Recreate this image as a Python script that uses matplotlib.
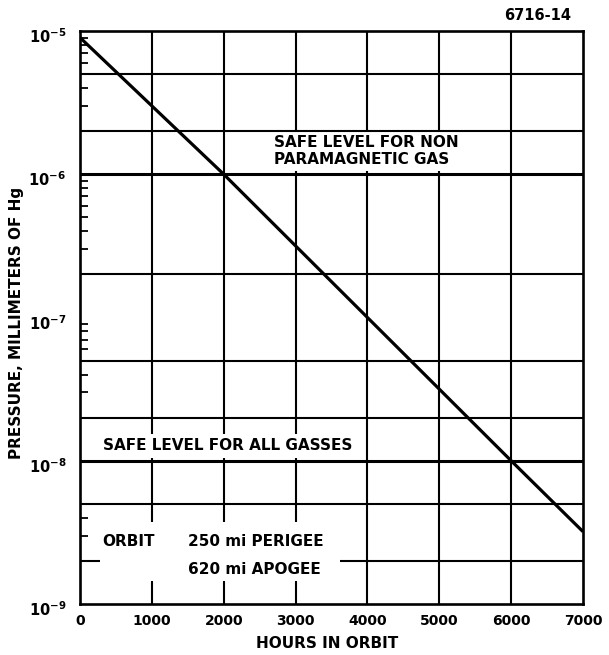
import matplotlib
matplotlib.use("Agg")
import matplotlib.pyplot as plt
import matplotlib.patches as mpatches
import matplotlib.transforms as mtransforms

# data
hours = [0, 2000, 4000, 6000, 7000]
pressure = [9.0e-6, 1.0e-6, 1.0e-7, 1.0e-8, 3.2e-9]

x_ticks = [0, 1000, 2000, 3000, 4000, 5000, 6000, 7000]
x_grid = [1000, 2000, 3000, 4000, 5000, 6000]
y_major = [1e-9, 1e-8, 1e-7, 1e-6, 1e-5]
y_major_labels = ["$10^{-9}$", "$10^{-8}$", "$10^{-7}$", "$10^{-6}$", "$10^{-5}$"]
y_grid = [5e-6, 2e-6, 2e-7, 5e-8, 2e-8, 5e-9, 2e-9]
safe_levels = [1e-6, 1e-8]
y_minor = [9e-6, 8e-6, 7e-6, 6e-6, 4e-6, 3e-6,
           9e-7, 8e-7, 7e-7, 6e-7, 5e-7, 4e-7, 3e-7,
           9e-8, 8e-8, 7e-8, 6e-8, 4e-8, 3e-8,
           4e-9, 3e-9]

FONT = "DejaVu Sans"
plt.rcParams["font.family"] = FONT
plt.rcParams["font.weight"] = "bold"
plt.rcParams["mathtext.default"] = "bf"

fig = plt.figure(figsize=(6.09, 6.55), dpi=100)
ax = fig.add_axes([80 / 609, 51 / 655, 503 / 609, 573 / 655])

ax.set_yscale("log")
ax.set_xlim(0, 7000)
ax.set_ylim(1e-9, 1e-5)

# grid
for x in x_grid:
    ax.axvline(x, color="black", lw=1.5, zorder=1)
for y in y_grid:
    ax.axhline(y, color="black", lw=1.5, zorder=3)
for y in safe_levels:
    ax.axhline(y, color="black", lw=2.2, zorder=3)

# decay curve
ax.plot(hours, pressure, color="black", lw=2.3, zorder=4, solid_capstyle="butt")

# ticks
ax.set_xticks(x_ticks)
ax.set_xticklabels([str(v) for v in x_ticks], fontsize=10, fontweight="bold")
ax.tick_params(axis="x", length=0, pad=7)
ax.set_yticks(y_major)
ax.set_yticklabels(y_major_labels, fontsize=10.5)
ax.set_yticks(y_minor, minor=True)
ax.yaxis.set_minor_formatter(plt.NullFormatter())
ax.tick_params(axis="y", which="major", length=0, pad=10)
ax.tick_params(axis="y", which="minor", direction="in", length=6, width=1.3)
shift = mtransforms.ScaledTranslation(0, -3 / 72, fig.dpi_scale_trans)
for lab in ax.get_yticklabels():
    lab.set_transform(lab.get_transform() + shift)

for sp in ax.spines.values():
    sp.set_linewidth(1.9)
    sp.set_zorder(5)

ax.set_xlabel("HOURS IN ORBIT", fontsize=11, fontweight="bold")
ax.xaxis.set_label_coords(0.492, -0.055)
ax.set_ylabel("PRESSURE, MILLIMETERS OF Hg", fontsize=11, fontweight="bold")
ax.yaxis.set_label_coords(-0.112, 0.49)

# annotations
box = dict(facecolor="white", edgecolor="none", pad=3)
ax.text(2700, 1.45e-6, "SAFE LEVEL FOR NON\nPARAMAGNETIC GAS", fontsize=11,
        ha="left", va="center", linespacing=1.2, bbox=box, zorder=2)
ax.text(320, 1.27e-8, "SAFE LEVEL FOR ALL GASSES", fontsize=11,
        ha="left", va="center", bbox=box, zorder=2)

ax.add_patch(mpatches.Rectangle((280, 1.45e-9), 3340, 2.3e-9,
                                facecolor="white", edgecolor="none", zorder=3.5))
ax.text(306, 2.75e-9, "ORBIT", fontsize=11, ha="left", va="center", zorder=3.6)
ax.text(1503, 2.75e-9, "250 mi PERIGEE", fontsize=11, ha="left", va="center",
        zorder=3.6)
ax.text(1503, 1.73e-9, "620 mi APOGEE", fontsize=11, ha="left", va="center",
        zorder=3.6)

fig.text(538 / 609, 1 - 15 / 655, "6716-14", fontsize=10.5, fontweight="bold",
         ha="center", va="center")

fig.savefig("out.png", dpi=100)
